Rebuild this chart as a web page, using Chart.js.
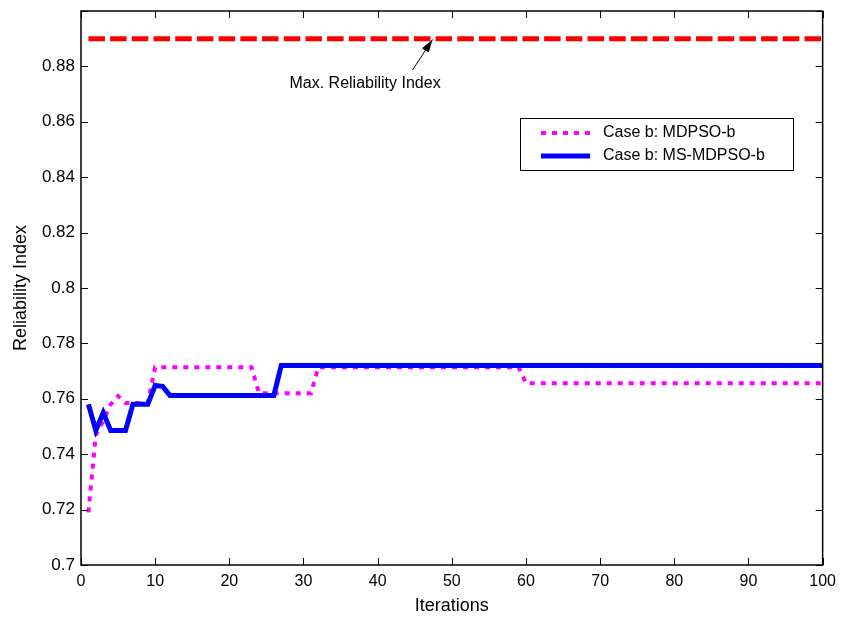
<!DOCTYPE html>
<html lang="en">
<head>
    <meta charset="UTF-8">
    <title>Reliability Index vs Iterations</title>
    <script src="https://cdn.jsdelivr.net/npm/chart.js"></script>
    <style>
        html, body {
            margin: 0;
            padding: 0;
            background: #fff;
        }
        .chart-box {
            width: 843px;
            height: 618px;
        }
    </style>
</head>
<body>
    <div class="chart-box">
        <canvas id="relChart" width="843" height="618"></canvas>
    </div>

    <script>
        // Data (breakpoints of each curve)
        const mdpsoIter = [1, 2, 3, 4, 5, 6, 9, 10, 23, 24, 31, 32, 59, 60, 100];
        const mdpsoValues = [0.719, 0.747, 0.752, 0.758, 0.761, 0.7585, 0.7585, 0.7714, 0.7714, 0.762, 0.762, 0.7714, 0.7714, 0.7656, 0.7656];

        const msMdpsoIter = [1, 2, 3, 4, 6, 7, 9, 10, 11, 12, 26, 27, 100];
        const msMdpsoValues = [0.758, 0.7486, 0.755, 0.7486, 0.7486, 0.758, 0.758, 0.7648, 0.7645, 0.7612, 0.7612, 0.772, 0.772];

        const maxIter = [1, 100];
        const maxValues = [0.89, 0.89];

        const xTickValues = [0, 10, 20, 30, 40, 50, 60, 70, 80, 90, 100];
        const xTickLabels = ['0', '10', '20', '30', '40', '50', '60', '70', '80', '90', '100'];
        const yTickValues = [0.7, 0.72, 0.74, 0.76, 0.78, 0.8, 0.82, 0.84, 0.86, 0.88, 0.9];
        const yTickLabels = ['0.7', '0.72', '0.74', '0.76', '0.78', '0.8', '0.82', '0.84', '0.86', '0.88', ''];

        const seriesNames = ['Case b: MDPSO-b', 'Case b: MS-MDPSO-b'];
        const annotationText = 'Max. Reliability Index';

        const FONT = '"Liberation Sans", Arial, sans-serif';

        function toPoints(xs, ys) {
            return xs.map((x, i) => ({ x: x, y: ys[i] }));
        }

        // box, inward ticks, legend and the arrow label
        const matlabLook = {
            id: 'matlabLook',
            afterDraw(chart) {
                const ctx = chart.ctx;
                const a = chart.chartArea;
                const xs = chart.scales.x;
                const ys = chart.scales.y;
                const tick = 7;

                ctx.save();
                ctx.strokeStyle = '#000';
                ctx.lineWidth = 1;
                ctx.beginPath();
                xTickValues.forEach(v => {
                    const px = Math.round(xs.getPixelForValue(v)) + 0.5;
                    ctx.moveTo(px, a.bottom); ctx.lineTo(px, a.bottom - tick);
                    ctx.moveTo(px, a.top); ctx.lineTo(px, a.top + tick);
                });
                yTickValues.forEach(v => {
                    const py = Math.round(ys.getPixelForValue(v)) + 0.5;
                    ctx.moveTo(a.left, py); ctx.lineTo(a.left + tick, py);
                    ctx.moveTo(a.right, py); ctx.lineTo(a.right - tick, py);
                });
                ctx.stroke();

                ctx.lineWidth = 1.5;
                ctx.strokeRect(a.left, a.top, a.right - a.left, a.bottom - a.top);

                // annotation arrow
                const tipX = xs.getPixelForValue(47.4), tipY = ys.getPixelForValue(0.8897);
                const tailX = xs.getPixelForValue(44.7), tailY = ys.getPixelForValue(0.8787);
                const ang = Math.atan2(tipY - tailY, tipX - tailX);
                ctx.lineWidth = 1;
                ctx.beginPath();
                ctx.moveTo(tailX, tailY);
                ctx.lineTo(tipX, tipY);
                ctx.stroke();
                ctx.fillStyle = '#000';
                ctx.beginPath();
                ctx.moveTo(tipX, tipY);
                ctx.lineTo(tipX - 13 * Math.cos(ang) + 4 * Math.sin(ang), tipY - 13 * Math.sin(ang) - 4 * Math.cos(ang));
                ctx.lineTo(tipX - 13 * Math.cos(ang) - 4 * Math.sin(ang), tipY - 13 * Math.sin(ang) + 4 * Math.cos(ang));
                ctx.closePath();
                ctx.fill();

                ctx.font = '16px ' + FONT;
                ctx.fillStyle = '#000';
                ctx.textAlign = 'center';
                ctx.textBaseline = 'middle';
                ctx.fillText(annotationText, xs.getPixelForValue(38.3), ys.getPixelForValue(0.8738));

                // legend
                const lx = 520, ly = 118, lw = 273, lh = 52;
                ctx.fillStyle = '#fff';
                ctx.fillRect(lx, ly, lw, lh);
                ctx.strokeStyle = '#000';
                ctx.lineWidth = 1;
                ctx.strokeRect(lx + 0.5, ly + 0.5, lw, lh);

                const dsets = [chart.data.datasets[1], chart.data.datasets[0]];
                const rowsY = [133, 156];
                dsets.forEach((ds, i) => {
                    ctx.strokeStyle = ds.borderColor;
                    ctx.lineWidth = ds.borderWidth;
                    ctx.setLineDash(ds.borderDash || []);
                    ctx.beginPath();
                    ctx.moveTo(541, rowsY[i]);
                    ctx.lineTo(590, rowsY[i]);
                    ctx.stroke();
                    ctx.setLineDash([]);
                    ctx.fillStyle = '#000';
                    ctx.textAlign = 'left';
                    ctx.fillText(seriesNames[i], 603, rowsY[i]);
                });
                ctx.restore();
            }
        };

        new Chart(document.getElementById('relChart'), {
            type: 'line',
            data: {
                datasets: [
                    {
                        label: seriesNames[1],
                        data: toPoints(msMdpsoIter, msMdpsoValues),
                        borderColor: '#0000ff',
                        borderWidth: 5,
                        pointRadius: 0,
                        tension: 0
                    },
                    {
                        label: seriesNames[0],
                        data: toPoints(mdpsoIter, mdpsoValues),
                        borderColor: '#ff00ff',
                        borderWidth: 4,
                        borderDash: [5, 6],
                        pointRadius: 0,
                        tension: 0
                    },
                    {
                        label: annotationText,
                        data: toPoints(maxIter, maxValues),
                        borderColor: '#ff0000',
                        borderWidth: 5,
                        borderDash: [16.5, 5.2],
                        pointRadius: 0,
                        tension: 0
                    }
                ]
            },
            options: {
                responsive: false,
                animation: false,
                layout: { padding: { left: 0, top: 11, right: 20, bottom: 0 } },
                plugins: {
                    legend: { display: false },
                    tooltip: { enabled: false }
                },
                scales: {
                    x: {
                        type: 'linear',
                        min: 0,
                        max: 100,
                        grid: { display: false, drawTicks: false },
                        border: { display: false },
                        afterBuildTicks: s => { s.ticks = xTickValues.map(v => ({ value: v })); },
                        afterFit: s => { s.height = 53; },
                        ticks: {
                            padding: 7,
                            maxRotation: 0,
                            autoSkip: false,
                            color: '#000',
                            font: { family: FONT, size: 16 },
                            callback: v => xTickLabels[xTickValues.indexOf(v)]
                        },
                        title: {
                            display: true,
                            text: 'Iterations',
                            color: '#000',
                            font: { family: FONT, size: 18 },
                            padding: { top: 0, bottom: 1 }
                        }
                    },
                    y: {
                        min: 0.7,
                        max: 0.9,
                        grid: { display: false, drawTicks: false },
                        border: { display: false },
                        afterBuildTicks: s => { s.ticks = yTickValues.map(v => ({ value: v })); },
                        afterFit: s => { s.width = 81; s.paddingTop = 0; s.paddingBottom = 0; },
                        ticks: {
                            padding: 6,
                            autoSkip: false,
                            color: '#000',
                            font: { family: FONT, size: 17 },
                            callback: (v, i) => yTickLabels[i]
                        },
                        title: {
                            display: true,
                            text: 'Reliability Index',
                            color: '#000',
                            font: { family: FONT, size: 18 },
                            padding: { top: 10, bottom: 0 }
                        }
                    }
                }
            },
            plugins: [matlabLook]
        });
    </script>
</body>
</html>
